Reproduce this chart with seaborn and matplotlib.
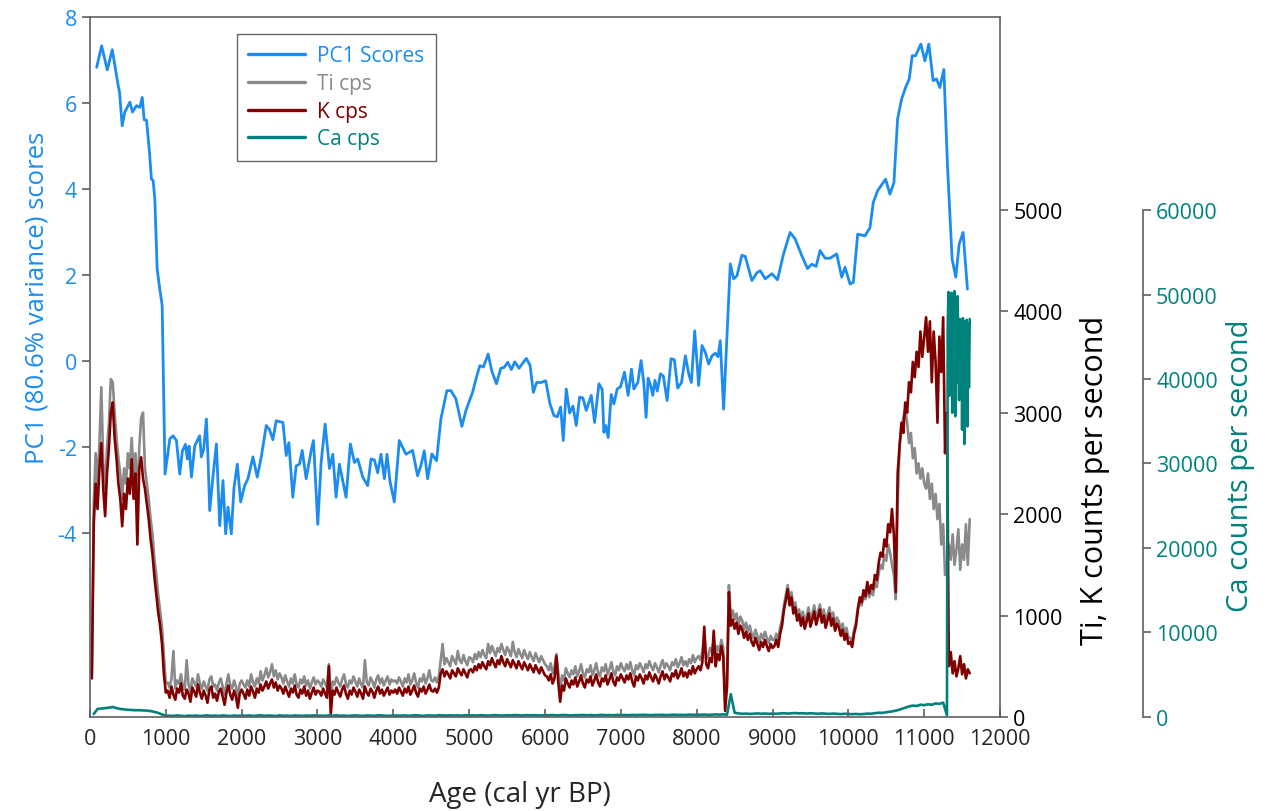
import numpy as np
import matplotlib
matplotlib.use("Agg")
import matplotlib.pyplot as plt
import seaborn as sns

# PC1 scores (left axis)
pc1_age = [88, 154, 228, 294, 373, 390, 425, 460, 526, 561, 614, 658, 689, 715, 746, 781, 811, 833, 855, 886,
           921, 952, 990, 1053, 1096, 1140, 1184, 1219, 1259, 1285, 1307, 1338, 1382, 1447, 1469, 1500, 1535, 1557,
           1579, 1623, 1667, 1711, 1754, 1789, 1820, 1864, 1899, 1943, 1987, 2039, 2083, 2149, 2206, 2259, 2325,
           2368, 2412, 2456, 2544, 2588, 2623, 2675, 2719, 2763, 2798, 2851, 2917, 2947, 3004, 3048, 3101, 3158,
           3202, 3245, 3289, 3377, 3434, 3487, 3531, 3597, 3662, 3706, 3750, 3794, 3838, 3882, 3917, 3956, 4013,
           4079, 4167, 4254, 4320, 4364, 4408, 4452, 4509, 4570, 4627, 4706, 4759, 4825, 4904, 4956, 5044, 5096,
           5140, 5188, 5250, 5298, 5360, 5417, 5461, 5509, 5557, 5601, 5658, 5702, 5754, 5803, 5846, 5890, 5950,
           6009, 6066, 6118, 6162, 6206, 6241, 6280, 6325, 6368, 6412, 6456, 6500, 6544, 6610, 6654, 6711, 6754,
           6776, 6800, 6833, 6873, 6908, 6952, 6996, 7048, 7096, 7140, 7171, 7224, 7267, 7302, 7333, 7360, 7390,
           7421, 7450, 7480, 7522, 7560, 7610, 7662, 7705, 7750, 7800, 7851, 7895, 7930, 7974, 8026, 8070, 8114,
           8158, 8202, 8246, 8281, 8311, 8355, 8443, 8487, 8531, 8596, 8640, 8728, 8794, 8838, 8904, 8991, 9066,
           9145, 9232, 9298, 9386, 9461, 9518, 9575, 9627, 9693, 9759, 9846, 9912, 9956, 10022, 10066, 10123,
           10219, 10285, 10329, 10386, 10491, 10548, 10601, 10649, 10702, 10754, 10803, 10842, 10886, 10956,
           11009, 11061, 11118, 11162, 11206, 11259, 11307, 11368, 11417, 11461, 11513, 11570]
pc1_val = [6.83, 7.33, 6.77, 7.24, 6.40, 6.25, 5.47, 5.79, 6.02, 5.79, 5.94, 5.90, 6.13, 5.61, 5.60, 4.93, 4.23,
           4.20, 3.77, 2.14, 1.67, 1.29, -2.63, -1.81, -1.74, -1.85, -2.63, -2.09, -1.94, -2.28, -1.98, -2.70,
           -1.97, -1.74, -2.23, -2.05, -1.35, -2.28, -3.48, -2.67, -1.93, -3.83, -2.78, -4.02, -3.40, -4.02,
           -2.95, -2.40, -3.28, -2.90, -2.74, -2.23, -2.70, -2.23, -1.50, -1.60, -1.83, -1.39, -1.43, -2.20,
           -1.90, -3.17, -2.44, -2.40, -2.08, -2.74, -2.08, -1.85, -3.80, -2.36, -1.47, -2.50, -2.17, -3.17,
           -2.40, -3.17, -1.93, -2.36, -2.28, -2.70, -2.90, -2.28, -2.30, -2.60, -2.17, -2.74, -2.17, -2.80,
           -3.28, -1.85, -2.17, -2.08, -2.67, -2.43, -2.09, -2.74, -2.16, -2.32, -1.35, -0.69, -0.69, -0.88,
           -1.52, -1.16, -0.73, -0.38, -0.11, -0.14, 0.16, -0.23, -0.53, -0.17, -0.15, -0.03, -0.20, -0.02,
           -0.17, -0.06, 0.06, -0.10, -0.73, -0.50, -0.50, -0.46, -1.00, -1.27, -1.30, -1.07, -1.85, -0.65,
           -1.21, -1.05, -1.50, -0.84, -0.86, -1.15, -0.80, -1.43, -0.53, -0.66, -1.66, -1.50, -1.78, -0.78,
           -1.00, -0.65, -0.60, -0.26, -0.80, -0.19, -0.65, -0.50, 0.01, -0.50, -1.31, -0.40, -0.55, -0.80,
           -0.45, -0.70, -0.30, -0.35, -0.92, 0.05, 0.03, -0.63, -0.50, 0.12, -0.30, -0.50, 0.70, -0.57, 0.36,
           0.20, -0.07, 0.12, 0.18, 0.10, 0.47, -1.12, 2.26, 1.91, 1.98, 2.46, 2.43, 1.87, 2.05, 2.10, 1.91,
           2.03, 1.89, 2.49, 2.99, 2.84, 2.45, 2.15, 2.25, 2.20, 2.57, 2.39, 2.39, 2.49, 1.95, 2.18, 1.79, 1.83,
           2.95, 2.91, 3.10, 3.69, 3.96, 4.23, 3.88, 4.15, 5.63, 6.09, 6.36, 6.56, 7.10, 7.10, 7.37, 6.98, 7.37,
           6.52, 6.56, 6.36, 6.78, 4.54, 2.37, 1.95, 2.72, 2.99, 1.67]

# Ti and K counts per second, one value every 25 yr from 25 to 11600
xrf_age = np.arange(25, 11601, 25)
k_cps = [
    380, 1900, 2300, 2050, 2450, 2700, 2250, 1980, 2400, 2650, 3000, 3100, 2750, 2550, 2300, 2150, 1880, 2200, 2050, 2350,
    2200, 2540, 2150, 2400, 1700, 2450, 2560, 2350, 2250, 2100, 1950, 1750, 1600, 1380, 1200, 1030, 900, 720, 420, 240,
    260, 190, 300, 220, 170, 280, 240, 330, 210, 180, 270, 230, 150, 290, 250, 200, 320, 240, 180, 260,
    210, 140, 270, 300, 190, 230, 160, 250, 280, 200, 120, 240, 310, 220, 170, 260, 200, 90, 230, 270,
    230, 180, 270, 210, 300, 250, 190, 280, 240, 320, 260, 300, 350, 280, 330, 370, 290, 340, 260, 310,
    280, 230, 300, 250, 200, 280, 240, 310, 220, 190, 270, 230, 300, 210, 260, 180, 240, 290, 220, 260,
    250, 210, 280, 230, 190, 500, 30, 260, 220, 290, 240, 200, 270, 310, 230, 180, 260, 220, 290, 250,
    200, 270, 230, 180, 300, 240, 210, 280, 250, 190, 260, 300, 230, 270, 210, 250, 290, 220, 260, 240,
    270, 230, 290, 250, 210, 280, 240, 300, 220, 260, 310, 240, 200, 280, 250, 300, 230, 270, 320, 260,
    250, 280, 240, 290, 430, 470, 400, 450, 420, 380, 460, 430, 400, 480, 440, 410, 470, 430, 390, 460,
    470, 440, 500, 460, 520, 480, 540, 500, 470, 550, 510, 580, 530, 490, 560, 520, 600, 540, 500, 570,
    530, 490, 560, 520, 480, 550, 510, 470, 540, 500, 460, 520, 480, 440, 510, 470, 430, 490, 450, 410,
    400, 360, 420, 330, 380, 600, 340, 150, 310, 260, 380, 330, 290, 360, 320, 390, 300, 350, 410, 330,
    290, 370, 340, 400, 310, 360, 420, 340, 300, 380, 350, 410, 320, 370, 430, 350, 310, 390, 360, 420,
    380, 340, 410, 370, 430, 350, 300, 400, 360, 420, 380, 330, 410, 370, 440, 390, 350, 420, 380, 330,
    400, 450, 370, 420, 390, 350, 430, 400, 460, 380, 420, 480, 400, 440, 390, 460, 420, 500, 430, 470,
    500, 460, 540, 890, 520, 480, 580, 540, 850, 500, 620, 560, 700, 600, 60, 300, 1230, 900, 960, 870,
    930, 820, 900, 860, 780, 840, 760, 820, 740, 700, 780, 720, 660, 740, 690, 760, 700, 650, 720, 680,
    700, 760, 690, 820, 900, 1050, 1150, 1260, 1100, 1180, 1020, 1080, 950, 1010, 900, 980, 870, 940, 1020, 890,
    960, 1040, 910, 980, 1060, 930, 1000, 880, 950, 1020, 900, 970, 850, 920, 880, 800, 860, 760, 820, 720,
    740, 690, 820, 900, 1050, 1180, 1130, 1250, 1190, 1330, 1220, 1300, 1260, 1400, 1350, 1520, 1620, 1580, 1750, 1680,
    1900, 1820, 2050, 1800, 1230, 2400, 2670, 2900, 2800, 3100, 3000, 3300, 3200, 3500, 3350, 3600, 3450, 3800, 3550, 3750,
    3940, 3600, 3900, 3300, 3800, 3500, 2900, 3750, 3400, 3940, 2600, 3000,
    500, 640, 430, 550, 400, 480, 600, 420, 520, 380, 470, 430]
ti_cps = [
    420, 2100, 2600, 2300, 2700, 3250, 2500, 2250, 2650, 2900, 3330, 3300, 3000, 2750, 2550, 2400, 2150, 2450, 2300, 2600,
    2450, 2750, 2400, 2600, 2150, 2650, 2950, 3000, 2450, 2300, 2150, 1950, 1800, 1550, 1400, 1200, 1050, 880, 600, 330,
    340, 290, 380, 650, 280, 360, 330, 420, 300, 270, 560, 320, 250, 380, 340, 300, 420, 330, 280, 350,
    300, 260, 370, 400, 300, 320, 260, 340, 380, 300, 220, 330, 420, 310, 280, 360, 300, 200, 330, 360,
    320, 290, 360, 300, 420, 340, 300, 380, 330, 450, 360, 410, 480, 390, 440, 520, 400, 460, 370, 430,
    390, 330, 410, 350, 300, 380, 330, 420, 320, 290, 370, 330, 400, 310, 360, 280, 340, 390, 320, 360,
    340, 300, 370, 330, 290, 520, 150, 350, 320, 390, 340, 300, 370, 420, 330, 290, 360, 330, 400, 350,
    300, 380, 320, 290, 560, 340, 310, 390, 350, 290, 370, 410, 330, 380, 310, 360, 400, 320, 370, 350,
    360, 330, 390, 350, 300, 380, 340, 420, 320, 360, 430, 340, 290, 380, 350, 420, 330, 380, 460, 360,
    350, 390, 340, 400, 560, 720, 520, 580, 540, 500, 600, 560, 520, 650, 560, 530, 610, 550, 510, 590,
    580, 540, 620, 570, 640, 590, 660, 610, 580, 720, 630, 700, 650, 600, 680, 640, 720, 660, 610, 690,
    650, 600, 740, 640, 590, 670, 620, 580, 660, 610, 570, 640, 590, 550, 630, 580, 540, 600, 560, 520,
    500, 460, 530, 430, 490, 620, 440, 260, 410, 360, 480, 430, 390, 460, 420, 500, 400, 450, 520, 430,
    390, 470, 440, 510, 410, 460, 530, 440, 400, 490, 450, 520, 420, 470, 540, 450, 410, 500, 460, 530,
    480, 450, 520, 470, 540, 460, 410, 510, 470, 530, 490, 440, 520, 480, 550, 500, 460, 530, 490, 440,
    510, 560, 480, 530, 500, 460, 540, 510, 570, 490, 530, 590, 510, 550, 500, 570, 530, 610, 540, 580,
    600, 560, 640, 800, 620, 580, 680, 640, 760, 600, 700, 650, 760, 680, 150, 380, 1300, 980, 1050, 960,
    1020, 900, 990, 950, 860, 930, 840, 900, 820, 780, 860, 800, 740, 820, 770, 840, 780, 730, 800, 760,
    760, 820, 760, 880, 960, 1100, 1200, 1300, 1160, 1230, 1080, 1130, 1000, 1060, 960, 1040, 930, 1000, 1080, 950,
    1020, 1100, 970, 1040, 1110, 990, 1060, 940, 1010, 1080, 960, 1030, 910, 980, 940, 860, 920, 820, 880, 780,
    780, 740, 860, 930, 1080, 1150, 1100, 1200, 1160, 1260, 1180, 1240, 1200, 1320, 1280, 1420, 1500, 1460, 1600, 1540,
    1700, 1620, 1500, 1400, 1160, 2100, 2670, 2850, 2950, 3040, 2900, 2700, 2800, 2550, 2650, 2400, 2500, 2350, 2450, 2300,
    2250, 2400, 2150, 2300, 2050, 2200, 1950, 2100, 1700, 1900, 1400, 1500,
    1700, 1550, 1800, 1500, 1650, 1850, 1450, 1700, 1550, 1900, 1500, 1950]

# Ca counts per second: every 50 yr up to 11300, then every 10 yr
ca_age = np.concatenate([np.arange(50, 11301, 50), np.arange(11310, 11601, 10)])
ca_cps = [
    350, 950, 1000, 1050, 1100, 1180, 1050, 950, 900, 850, 820, 800, 800, 780, 750, 700, 600, 480, 300, 150,
    150, 120, 180, 140, 100, 160, 130, 170, 110, 150, 190, 130, 160, 120, 180, 140, 110, 170, 130, 160,
    140, 180, 120, 160, 200, 130, 170, 150, 110, 190, 140, 160, 120, 180, 150, 130, 170, 140, 190, 150,
    160, 130, 180, 150, 200, 140, 170, 120, 160, 190, 150, 130, 180, 160, 140, 200, 170, 150, 130, 180,
    170, 150, 190, 140, 180, 200, 160, 130, 190, 170, 150, 210, 180, 160, 200, 170, 190, 150, 210, 180,
    190, 170, 210, 180, 160, 200, 220, 180, 170, 210, 190, 230, 200, 180, 220, 190, 210, 200, 180, 220,
    200, 230, 190, 210, 240, 200, 180, 220, 210, 240, 200, 230, 190, 220, 250, 210, 230, 200, 240, 220,
    230, 210, 250, 220, 240, 260, 230, 210, 250, 240, 260, 220, 250, 270, 240, 260, 230, 280, 250, 270,
    260, 290, 250, 280, 300, 270, 310, 280, 2700, 500, 420, 380, 400, 360, 390, 420, 380, 410, 370, 400,
    380, 420, 450, 400, 430, 470, 420, 450, 400, 440, 410, 380, 420, 390, 360, 400, 370, 340, 380, 350,
    330, 360, 320, 350, 400, 380, 450, 500, 480, 560, 620, 700, 800, 950, 1100, 1250, 1350, 1300, 1450, 1400,
    1500, 1450, 1600, 1550, 1700, 200,
    46000, 50300, 38000, 49500, 42000, 50200, 36000, 47800, 40500, 50400, 35600, 48000, 39600, 49800, 44000,
    37500, 47100, 41000, 46500, 34000, 47200, 38500, 32300, 46800, 40000, 47000, 34400, 46600, 39000, 47100]

pc1_ticks = [-4, -2, 0, 2, 4, 6, 8]
tik_ticks = [0, 1000, 2000, 3000, 4000, 5000]
ca_ticks = [0, 10000, 20000, 30000, 40000, 50000, 60000]
age_ticks = list(range(0, 12001, 1000))

blue = "#1c8cf0"
grey = "#8a8a8a"
red = "#800000"
teal = "#00827c"
spine = "#606060"

sns.set_style("ticks")
plt.rcParams['font.family'] = ['Open Sans', 'DejaVu Sans']

fig = plt.figure(figsize=(12.67, 8.12), dpi=100)
ax = fig.add_axes([0.0710, 0.1158, 0.7183, 0.862])
ax2 = ax.twinx()
ax3 = ax.twinx()

sns.lineplot(x=xrf_age, y=ti_cps, ax=ax2, color=grey, lw=1.9, label="Ti cps", legend=False)
sns.lineplot(x=xrf_age, y=k_cps, ax=ax2, color=red, lw=1.9, label="K cps", legend=False)
sns.lineplot(x=ca_age, y=ca_cps, ax=ax3, color=teal, lw=1.9, label="Ca cps", legend=False)
sns.lineplot(x=pc1_age, y=pc1_val, ax=ax, color=blue, lw=2.0, label="PC1 Scores", legend=False)

ax.set_zorder(ax3.get_zorder() + 1)
ax.patch.set_visible(False)

ax.set_xlim(0, 12000)
ax.set_ylim(-8.28, 8)
ax2.set_ylim(0, 6900)
ax3.set_ylim(0, 82840)

ax.set_xticks(age_ticks)
ax.set_yticks(pc1_ticks)
ax.set_yticklabels([str(t) for t in pc1_ticks])
ax2.set_yticks(tik_ticks)
ax3.set_yticks(ca_ticks)

for a in (ax, ax2, ax3):
    for s in a.spines.values():
        s.set_color(spine)
        s.set_linewidth(1.2)
ax.spines['right'].set_visible(False)
for s in ('top', 'left', 'bottom'):
    ax2.spines[s].set_visible(False)
    ax3.spines[s].set_visible(False)
ax2.spines['right'].set_visible(True)
ax3.spines['right'].set_position(('axes', 1.157))
ax3.spines['right'].set_bounds(0, 60000)

ax.tick_params(axis='x', direction='in', length=6, width=1.2, color=spine, labelsize=15.5, pad=8)
ax.tick_params(axis='y', direction='out', length=6, width=1.2, color=spine, labelsize=15.5, labelcolor=blue)
ax2.tick_params(axis='y', direction='out', length=6, width=1.2, color=spine, labelsize=15.5, labelcolor='black')
ax3.tick_params(axis='y', direction='out', length=6, width=1.2, color=spine, labelsize=15.5, labelcolor=teal)

ax.set_xlabel("Age (cal yr BP)", fontsize=20)
ax.xaxis.set_label_coords(0.4725, -0.09)
ax.set_ylabel("PC1 (80.6% variance) scores", fontsize=18.5, color=blue)
ax.yaxis.set_label_coords(-0.045, 0.60)
ax2.set_ylabel("Ti, K counts per second", fontsize=22, color='black')
ax2.yaxis.set_label_coords(1.088, 0.34)
ax3.set_ylabel("Ca counts per second", fontsize=21, color=teal)
ax3.yaxis.set_label_coords(1.248, 0.36)

handles = []
labels = []
for a in (ax, ax2, ax3):
    h, l = a.get_legend_handles_labels()
    handles += h
    labels += l
leg = ax.legend(handles, labels, loc='upper left', bbox_to_anchor=(0.1615, 0.9757), borderaxespad=0,
                fontsize=15, frameon=True, fancybox=False, edgecolor='#404040', labelcolor='linecolor',
                handlelength=2.7, handletextpad=0.6, labelspacing=0.32, borderpad=0.55)
leg.get_frame().set_linewidth(1.0)
for line in leg.get_lines():
    line.set_linewidth(2.4)

fig.savefig("out.png", dpi=100)
